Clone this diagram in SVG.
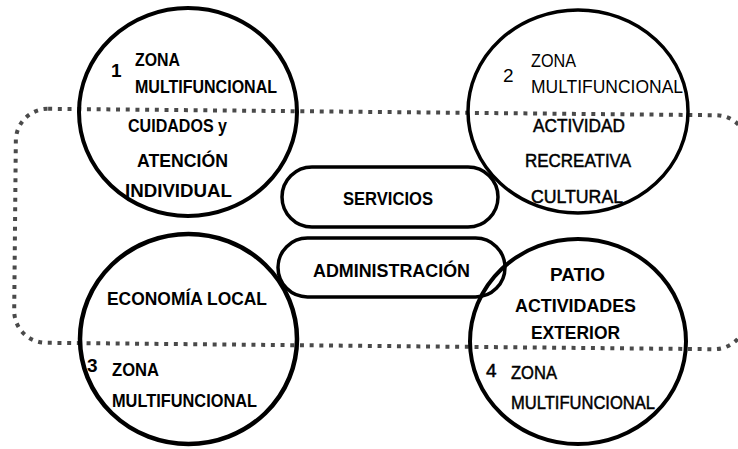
<svg xmlns="http://www.w3.org/2000/svg" width="738" height="449" viewBox="0 0 738 449">
<style>
.t{font-family:"Liberation Sans",Arial,sans-serif;font-size:19px;fill:#000}
.b{font-weight:bold}
.s{font-weight:normal;stroke:#000;stroke-width:0.5}
.n{font-weight:normal}
.circ{fill:none;stroke:#000;stroke-width:4}
.pill{fill:none;stroke:#000;stroke-width:3.5}
.dots{fill:none;stroke:#4a4a4a;stroke-width:4;stroke-dasharray:4 5.7}
</style>
<rect width="738" height="449" fill="#fff"/>
<g id="connectors">
<rect id="zone-boundary" class="dots" x="15" y="112" width="732" height="234" rx="32" transform="rotate(0.55 380 229)"/>
</g>
<g id="zona1">
<ellipse class="circ" cx="188" cy="112" rx="109" ry="104"/>
<text class="t b" x="111" y="77">1</text>
<text class="t b" x="135" y="66" textLength="45" lengthAdjust="spacingAndGlyphs">ZONA</text>
<text class="t b" x="135" y="93" textLength="142" lengthAdjust="spacingAndGlyphs">MULTIFUNCIONAL</text>
<text class="t b" x="128" y="132" textLength="99" lengthAdjust="spacingAndGlyphs">CUIDADOS y</text>
<text class="t b" x="137" y="167" textLength="91" lengthAdjust="spacingAndGlyphs">ATENCIÓN</text>
<text class="t b" x="125" y="197" textLength="107" lengthAdjust="spacingAndGlyphs">INDIVIDUAL</text>
</g>
<g id="zona2">
<ellipse class="circ" cx="578" cy="111.5" rx="110" ry="101.5" style="stroke-width:3.5"/>
<text class="t n" x="503" y="82">2</text>
<text class="t n" x="531" y="67" textLength="45" lengthAdjust="spacingAndGlyphs">ZONA</text>
<text class="t n" x="531" y="93" textLength="152" lengthAdjust="spacingAndGlyphs">MULTIFUNCIONAL</text>
<text class="t s" x="533" y="132" textLength="92" lengthAdjust="spacingAndGlyphs">ACTIVIDAD</text>
<text class="t s" x="525" y="167" textLength="106" lengthAdjust="spacingAndGlyphs">RECREATIVA</text>
<text class="t s" x="531" y="203" textLength="92" lengthAdjust="spacingAndGlyphs">CULTURAL</text>
</g>
<g id="servicios">
<rect class="pill" x="282" y="167" width="216" height="60" rx="30"/>
<text class="t b" x="343" y="205" textLength="90" lengthAdjust="spacingAndGlyphs">SERVICIOS</text>
</g>
<g id="administracion">
<rect class="pill" x="278" y="238" width="227" height="59" rx="29.5"/>
<text class="t b" x="313" y="277" textLength="157" lengthAdjust="spacingAndGlyphs">ADMINISTRACIÓN</text>
</g>
<g id="zona3">
<ellipse class="circ" cx="188.5" cy="339" rx="108.5" ry="105" style="stroke-width:4.5"/>
<text class="t b" x="107" y="305" textLength="160" lengthAdjust="spacingAndGlyphs">ECONOMÍA LOCAL</text>
<text class="t b" x="87" y="372">3</text>
<text class="t b" x="112" y="376" textLength="47" lengthAdjust="spacingAndGlyphs">ZONA</text>
<text class="t b" x="112" y="407" textLength="145" lengthAdjust="spacingAndGlyphs">MULTIFUNCIONAL</text>
</g>
<g id="zona4">
<ellipse class="circ" cx="578" cy="341.5" rx="108" ry="102.5"/>
<text class="t b" x="550" y="281" textLength="55" lengthAdjust="spacingAndGlyphs">PATIO</text>
<text class="t b" x="515" y="312" textLength="121" lengthAdjust="spacingAndGlyphs">ACTIVIDADES</text>
<text class="t b" x="531" y="339" textLength="89" lengthAdjust="spacingAndGlyphs">EXTERIOR</text>
<text class="t s" x="486" y="377">4</text>
<text class="t s" x="511" y="379" textLength="46" lengthAdjust="spacingAndGlyphs">ZONA</text>
<text class="t s" x="511" y="409" textLength="144" lengthAdjust="spacingAndGlyphs">MULTIFUNCIONAL</text>
</g>
</svg>
